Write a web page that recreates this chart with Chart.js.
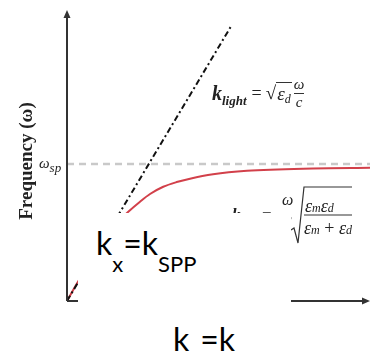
<!DOCTYPE html>
<html lang="en">
<head>
<meta charset="UTF-8">
<title>SPP dispersion</title>
<style>
    body { margin: 0; background: #fff; }
    #wrap { position: relative; width: 372px; height: 354px; overflow: hidden; }
    #wrap canvas { position: absolute; left: 0; top: 0; }
    .serif { font-family: 'Liberation Serif', 'DejaVu Serif', serif; color: #222; }
    .abs { position: absolute; white-space: nowrap; }
    #ylabel { left: 26px; top: 161px; font-weight: bold; font-size: 19px; transform: translate(-50%, -50%) rotate(-90deg); }
    #wsp { left: 39px; top: 155px; font-style: italic; font-size: 15px; }
    #wsp span { font-size: 13px; position: relative; top: 4px; }
    .row { display: flex; align-items: center; }
    .frac { display: inline-flex; flex-direction: column; align-items: center; line-height: 1; font-style: italic; }
    .frac .bar { border-top: 1px solid #333; width: 100%; margin: 1px 0; }
    .sqrt { display: inline-flex; align-items: stretch; }
    .sqrt .rad { border-top: 1px solid #333; padding: 0 1px; display: inline-flex; align-items: center; }
    #klight { left: 212px; top: 77px; font-size: 20px; }
    #box { position: absolute; left: 78px; top: 213px; width: 213px; height: 141px; background: #fff; z-index: 5;
           font-family: Lato, 'Open Sans', sans-serif; color: #000; }
    #box .t { position: absolute; font-size: 32px; line-height: 32px; white-space: nowrap; }
    #box .t span { font-size: 22px; position: relative; top: 17px; }
    .p { position: absolute; line-height: 1; white-space: nowrap; }
</style>
</head>
<body>
<div id="wrap">
    <canvas id="chart" width="372" height="354"></canvas>

    <div id="ylabel" class="abs serif">Frequency (ω)</div>
    <div id="wsp" class="abs serif">ω<span>sp</span></div>

    <div id="klight" class="abs serif row">
        <b><i>k</i></b><b><i style="font-size:13px;position:relative;top:5px">light</i></b>
        <span style="margin:0 4px 0 5px;font-size:18px">=</span>
        <span class="sqrt"><span style="font-size:19px">√</span><span class="rad"><i style="font-size:19px">ε</i><i style="font-size:12px;position:relative;top:5px">d</i></span></span>
        <span class="frac" style="font-size:15px;margin-left:2px"><span>ω</span><span class="bar"></span><span>c</span></span>
    </div>

    <!-- k_SPP formula, mostly hidden under the text box -->
    <div class="serif">
        <b class="p" style="left:232px;top:206px;font-size:17px"><i>k</i></b>
        <i class="p" style="left:240px;top:216px;font-size:10px">SPP</i>
        <span class="p" style="left:262px;top:206px;font-size:17px">=</span>
        <i class="p" style="left:282px;top:192px;font-size:16px">ω</i>
        <i class="p" style="left:285px;top:212px;font-size:15px">c</i>
        <svg class="p" style="left:290px;top:186px" width="64" height="60">
            <polyline points="1,44 4,42 8,57 14,1 62,1" fill="none" stroke="#333" stroke-width="1.2"/>
            <line x1="14" y1="29" x2="62" y2="29" stroke="#333" stroke-width="1.2"/>
        </svg>
        <span class="p" style="left:305px;top:197px;font-size:18px"><i>ε</i><i style="font-size:12px">m</i><i>ε</i><i style="font-size:12px">d</i></span>
        <span class="p" style="left:304px;top:219px;font-size:18px"><i>ε</i><i style="font-size:12px">m</i> + <i>ε</i><i style="font-size:12px">d</i></span>
    </div>

    <div id="box">
        <div class="t" style="left:18px; top:14px">k<span>x</span>=k<span>SPP</span></div>
        <div class="t" style="left:95px; top:110px">k<span>x</span>=k</div>
    </div>
</div>

<script src="https://cdn.jsdelivr.net/npm/chart.js"></script>
<script>
    // wave vector (arbitrary units) and frequency in units of omega_sp
    const kLight = [0, 1.62];
    const wLight = [0, 2.0];

    const kSpp = [0, 0.104, 0.25, 0.4, 0.5, 0.607, 0.723, 0.822, 0.953, 1.086, 1.218, 1.446, 1.782, 2.436, 3.0];
    const wSpp = [0, 0.135, 0.305, 0.475, 0.575, 0.652, 0.725, 0.781, 0.834, 0.868, 0.893, 0.925, 0.950, 0.967, 0.972];

    const kSp = [0, 3.0];
    const wSp = [1, 1];

    const toPoints = (xs, ys) => xs.map((x, i) => ({ x: x, y: ys[i] }));

    // axes with arrow heads, drawn on the chart area edges
    const arrowAxes = {
        id: 'arrowAxes',
        afterDatasetsDraw(chart) {
            const { ctx, chartArea: a } = chart;
            ctx.save();
            ctx.strokeStyle = '#333';
            ctx.fillStyle = '#333';
            ctx.lineWidth = 2;
            ctx.beginPath();
            ctx.moveTo(a.left, a.bottom);
            ctx.lineTo(a.left, a.top + 6);
            ctx.moveTo(a.left, a.bottom);
            ctx.lineTo(a.right - 6, a.bottom);
            ctx.stroke();
            ctx.beginPath();
            ctx.moveTo(a.left, a.top);
            ctx.lineTo(a.left - 3.5, a.top + 8);
            ctx.lineTo(a.left + 3.5, a.top + 8);
            ctx.closePath();
            ctx.moveTo(a.right, a.bottom);
            ctx.lineTo(a.right - 8, a.bottom - 3.5);
            ctx.lineTo(a.right - 8, a.bottom + 3.5);
            ctx.closePath();
            ctx.fill();
            ctx.restore();
        }
    };

    new Chart(document.getElementById('chart'), {
        type: 'line',
        data: {
            datasets: [
                {
                    label: 'omega_sp',
                    data: toPoints(kSp, wSp),
                    borderColor: '#c9c9c9',
                    borderWidth: 2.5,
                    borderDash: [7, 5],
                    pointRadius: 0
                },
                {
                    label: 'k_light',
                    data: toPoints(kLight, wLight),
                    borderColor: '#111',
                    borderWidth: 2,
                    borderDash: [6, 3, 2, 3],
                    pointRadius: 0
                },
                {
                    label: 'k_SPP',
                    data: toPoints(kSpp, wSpp),
                    borderColor: '#d2404a',
                    borderWidth: 2,
                    cubicInterpolationMode: 'monotone',
                    pointRadius: 0
                }
            ]
        },
        options: {
            responsive: false,
            animation: false,
            layout: { padding: { left: 67, top: 10, right: 2, bottom: 53 } },
            plugins: { legend: { display: false }, tooltip: { enabled: false } },
            scales: {
                x: { type: 'linear', min: 0, max: 3, display: false },
                y: { type: 'linear', min: 0, max: 2.124, display: false }
            }
        },
        plugins: [arrowAxes]
    });
</script>
</body>
</html>
